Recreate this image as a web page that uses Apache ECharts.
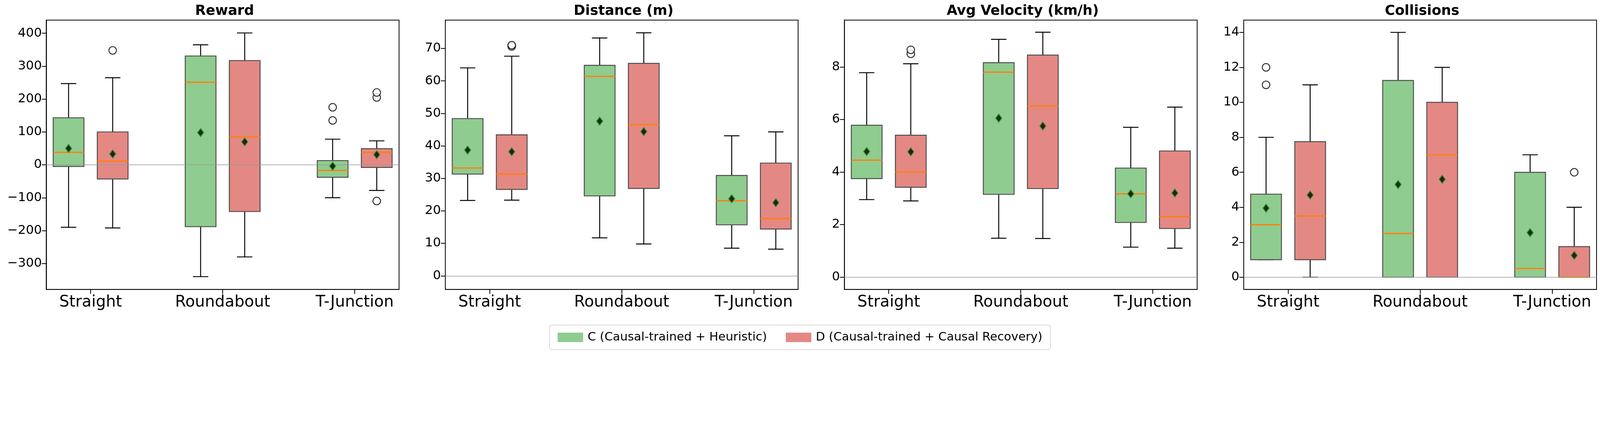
<!DOCTYPE html>
<html><head><meta charset="utf-8">
<script src="https://cdn.jsdelivr.net/npm/echarts@6/dist/echarts.min.js"></script>
<style>html,body{margin:0;padding:0;background:#fff;overflow:hidden}#c{width:100vw;height:100vh}</style>
</head><body><div id="c"></div>
<script>
const categories = ['Straight', 'Roundabout', 'T-Junction'];
const titles = ['Reward', 'Distance (m)', 'Avg Velocity (km/h)', 'Collisions'];
const seriesNames = ['C (Causal-trained + Heuristic)', 'D (Causal-trained + Causal Recovery)'];

// [low whisker, q1, median, q3, high whisker] per category
const rewardC = [[-190, -5, 38, 143, 247], [-340, -188, 251, 331, 365], [-100, -38, -17, 13, 78]];
const rewardD = [[-192, -43, 11, 100, 265], [-280, -142, 85, 317, 401], [-78, -8, 38, 49, 73]];
const rewardCMean = [50, 98, -4];
const rewardDMean = [33, 70, 31];
const rewardCOut = [[], [], [135, 175]];
const rewardDOut = [[348], [], [205, 220, -110]];

const distC = [[23.2, 31.3, 33.2, 48.4, 64.0], [11.7, 24.6, 61.4, 64.8, 73.2], [8.5, 15.7, 23.1, 30.9, 43.1]];
const distD = [[23.3, 26.6, 31.3, 43.4, 67.6], [9.8, 26.9, 46.5, 65.4, 74.8], [8.2, 14.4, 17.6, 34.7, 44.3]];
const distCMean = [38.7, 47.6, 23.7];
const distDMean = [38.2, 44.4, 22.5];
const distCOut = [[], [], []];
const distDOut = [[70.6, 71.0], [], []];

const velC = [[2.95, 3.75, 4.45, 5.78, 7.78], [1.48, 3.15, 7.8, 8.16, 9.05], [1.14, 2.08, 3.17, 4.15, 5.7]];
const velD = [[2.9, 3.42, 4.0, 5.4, 8.12], [1.47, 3.37, 6.51, 8.45, 9.32], [1.1, 1.85, 2.3, 4.8, 6.47]];
const velCMean = [4.78, 6.05, 3.17];
const velDMean = [4.77, 5.75, 3.2];
const velCOut = [[], [], []];
const velDOut = [[8.5, 8.65], [], []];

const colC = [[1, 1, 3, 4.75, 8], [0, 0, 2.5, 11.25, 14], [0, 0, 0.5, 6, 7]];
const colD = [[0, 1, 3.5, 7.75, 11], [0, 0, 7, 10, 12], [0, 0, 0, 1.75, 4]];
const colCMean = [3.95, 5.3, 2.55];
const colDMean = [4.7, 5.6, 1.25];
const colCOut = [[11, 12], [], []];
const colDOut = [[], [], [6]];

const yTicks = [
  [-300, -200, -100, 0, 100, 200, 300, 400],
  [0, 10, 20, 30, 40, 50, 60, 70],
  [0, 2, 4, 6, 8],
  [0, 2, 4, 6, 8, 10, 12, 14]
];
const yRanges = [[-379, 440], [-4.2, 78.7], [-0.47, 9.78], [-0.7, 14.7]];

const metrics = [
  [rewardC, rewardD, rewardCMean, rewardDMean, rewardCOut, rewardDOut],
  [distC, distD, distCMean, distDMean, distCOut, distDOut],
  [velC, velD, velCMean, velDMean, velCOut, velDOut],
  [colC, colD, colCMean, colDMean, colCOut, colDOut]
];

const S = (window.innerWidth || 5084) / 5084;
const P = v => v * S;
const lefts = [147, 1415, 2683, 3952];
const gw = 1121, gtop = 64, gh = 856;
const off = 0.167, bw = 0.233;
const fills = ['#8fcc8f', '#e48884'];

const chart = echarts.init(document.getElementById('c'));
const grid = [], xAxis = [], yAxis = [], title = [], series = [];
metrics.forEach((m, i) => {
  grid.push({left: P(lefts[i]), top: P(gtop), width: P(gw), height: P(gh), show: true, borderColor: '#000', borderWidth: P(2.5), backgroundColor: 'transparent'});
  xAxis.push({type: 'value', gridIndex: i, min: -0.336, max: 2.336, splitLine: {show: false},
    axisLine: {show: true, onZero: false, lineStyle: {color: '#000', width: P(2.5)}},
    axisTick: {show: true, customValues: [0, 1, 2], length: P(14), lineStyle: {color: '#000', width: P(2.5)}},
    axisLabel: {customValues: [0, 1, 2], formatter: v => categories[Math.round(v)], fontSize: P(50), color: '#000', fontFamily: 'DejaVu Sans', margin: P(16)}});
  yAxis.push({type: 'value', gridIndex: i, min: yRanges[i][0], max: yRanges[i][1], splitLine: {show: false},
    axisLine: {show: true, onZero: false, lineStyle: {color: '#000', width: P(2.5)}},
    axisTick: {show: true, customValues: yTicks[i], length: P(14), lineStyle: {color: '#000', width: P(2.5)}},
    axisLabel: {customValues: yTicks[i], formatter: v => (v < 0 ? '\u2212' + (-v) : '' + v), fontSize: P(40), color: '#000', fontFamily: 'DejaVu Sans', margin: P(14)}});
  title.push({text: titles[i], left: P(lefts[i] + gw / 2), top: P(8), textAlign: 'center',
    textStyle: {fontSize: P(44), fontWeight: 'bold', color: '#000', fontFamily: 'DejaVu Sans'}});
  [0, 1].forEach(s => {
    const stats = m[s], means = m[2 + s], outs = m[4 + s];
    const dx = s === 0 ? -off : off;
    series.push({
      type: 'custom', name: seriesNames[s], xAxisIndex: i, yAxisIndex: i,
      itemStyle: {color: fills[s]},
      data: stats.map((d, k) => [k + dx].concat(d)),
      encode: {x: 0, y: [1, 2, 3, 4, 5]},
      renderItem: (params, api) => {
        const x = api.value(0);
        const p = j => api.coord([x, api.value(j)]);
        const lo = p(1), q1 = p(2), md = p(3), q3 = p(4), hi = p(5);
        const xl = api.coord([x - bw / 2, 0])[0], xr = api.coord([x + bw / 2, 0])[0];
        const cl = api.coord([x - bw / 4, 0])[0], cr = api.coord([x + bw / 4, 0])[0];
        const ws = {stroke: '#000', lineWidth: P(3)};
        return {type: 'group', children: [
          {type: 'line', shape: {x1: lo[0], y1: lo[1], x2: q1[0], y2: q1[1]}, style: ws},
          {type: 'line', shape: {x1: hi[0], y1: hi[1], x2: q3[0], y2: q3[1]}, style: ws},
          {type: 'line', shape: {x1: cl, y1: lo[1], x2: cr, y2: lo[1]}, style: ws},
          {type: 'line', shape: {x1: cl, y1: hi[1], x2: cr, y2: hi[1]}, style: ws},
          {type: 'rect', shape: {x: xl, y: q3[1], width: xr - xl, height: q1[1] - q3[1]}, style: {fill: fills[s], stroke: '#4d4d4d', lineWidth: P(3)}},
          {type: 'line', shape: {x1: xl, y1: md[1], x2: xr, y2: md[1]}, style: {stroke: '#ff7f0e', lineWidth: P(4)}}
        ]};
      },
      markLine: s === 0 ? {silent: true, symbol: 'none', label: {show: false}, lineStyle: {color: '#999', width: P(2), type: 'solid'}, data: [{yAxis: 0}]} : undefined,
      z: 2
    });
    series.push({
      type: 'scatter', xAxisIndex: i, yAxisIndex: i, symbol: 'diamond', symbolSize: [P(20), P(26)],
      itemStyle: {color: '#000', borderColor: '#2ca02c', borderWidth: P(3)},
      data: means.map((v, k) => [k + dx, v]), z: 5
    });
    const od = [];
    outs.forEach((arr, k) => arr.forEach(v => od.push([k + dx, v])));
    series.push({
      type: 'scatter', xAxisIndex: i, yAxisIndex: i, symbol: 'circle', symbolSize: P(24),
      itemStyle: {color: '#fff', borderColor: '#000', borderWidth: P(3)},
      data: od, z: 5
    });
  });
});

chart.setOption({
  animation: false,
  title, grid, xAxis, yAxis, series,
  legend: {data: seriesNames.map((n, s) => ({name: n, icon: 'rect', itemStyle: {color: fills[s], borderWidth: 0}})),
    left: 'center', top: P(1033), itemWidth: P(81), itemHeight: P(30), itemGap: P(60),
    padding: [P(20), P(26)], borderColor: '#d0d0d0', borderWidth: P(2), borderRadius: P(8),
    textStyle: {fontSize: P(38), color: '#000', fontFamily: 'DejaVu Sans', padding: [0, 0, 0, P(8)]}}
});
</script></body></html>
